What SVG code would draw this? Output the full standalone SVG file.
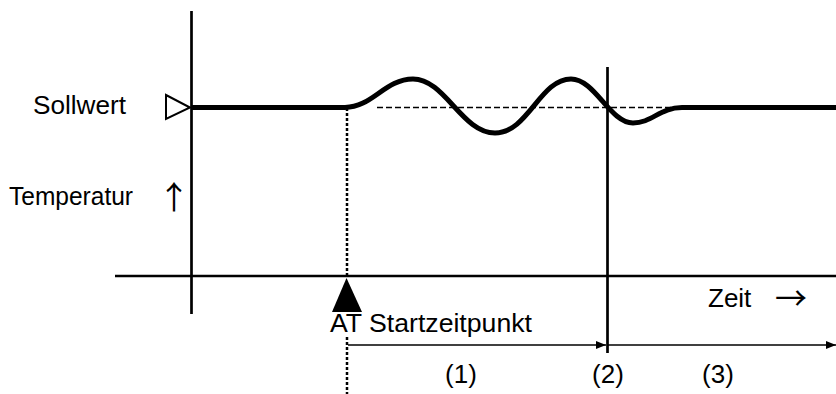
<svg xmlns="http://www.w3.org/2000/svg" width="836" height="394" viewBox="0 0 836 394">
<style>
.t{font-family:"Liberation Sans",Arial,sans-serif;font-size:26px;fill:#000}
.ar{font-family:"Noto Sans CJK JP","DejaVu Sans",sans-serif;font-size:32px;fill:#000}
.ax{stroke:#000;stroke-width:2.7;fill:none}
.thin{stroke:#000;stroke-width:1.6;fill:none}
</style>
<defs>
<marker id="ah" markerWidth="10" markerHeight="8" refX="10" refY="4" orient="auto" markerUnits="userSpaceOnUse">
<path d="M0,0 L10,4 L0,8 Z" fill="#000"/>
</marker>
</defs>
<rect width="836" height="394" fill="#fff"/>
<g id="axes">
<line class="ax" x1="191.5" y1="11" x2="191.5" y2="314"/>
<line class="ax" x1="115" y1="276" x2="836" y2="276"/>
</g>
<g id="connectors">
<line x1="377" y1="107.5" x2="682" y2="107.5" stroke="#000" stroke-width="1.6" stroke-dasharray="6,3"/>
<line x1="347" y1="108" x2="347" y2="276" stroke="#000" stroke-width="2.5" stroke-dasharray="3,2"/>
<line x1="347" y1="337" x2="347" y2="394" stroke="#000" stroke-width="2.5" stroke-dasharray="3,2"/>
<line class="ax" x1="607.5" y1="67" x2="607.5" y2="353" stroke-width="2"/>
<line class="thin" x1="348" y1="345" x2="606" y2="345" marker-end="url(#ah)"/>
<line class="thin" x1="608" y1="345" x2="836" y2="345" marker-end="url(#ah)"/>
</g>
<g id="curve">
<path d="M192,107.5 L345,107.5 C372,107.5 385,79 413,79 C445,79 462,133 495,133 C528,133 540,79 571,79 C595,79 610,123 633,123 C652,123 660,107.5 682,107.5 L836,107.5" fill="none" stroke="#000" stroke-width="5"/>
</g>
<g id="sollwert">
<polygon points="166,95 190,107.5 166,119" fill="#fff" stroke="#000" stroke-width="2"/>
<text class="t" x="33" y="114" textLength="93" lengthAdjust="spacingAndGlyphs">Sollwert</text>
</g>
<g id="temperatur">
<text class="t" x="9" y="205" textLength="124" lengthAdjust="spacingAndGlyphs">Temperatur</text>
<text class="ar" x="174" y="209" text-anchor="middle">↑</text>
</g>
<g id="start">
<polygon points="346.5,278 332,312 362,312" fill="#000"/>
<text class="t" x="330" y="332" textLength="202" lengthAdjust="spacingAndGlyphs">AT Startzeitpunkt</text>
</g>
<g id="zeit">
<text class="t" x="708" y="307">Zeit</text>
<text class="ar" x="791" y="310" text-anchor="middle">→</text>
</g>
<g id="labels">
<text class="t" x="461" y="383" text-anchor="middle">(1)</text>
<text class="t" x="608" y="383" text-anchor="middle">(2)</text>
<text class="t" x="718" y="383" text-anchor="middle">(3)</text>
</g>
</svg>
